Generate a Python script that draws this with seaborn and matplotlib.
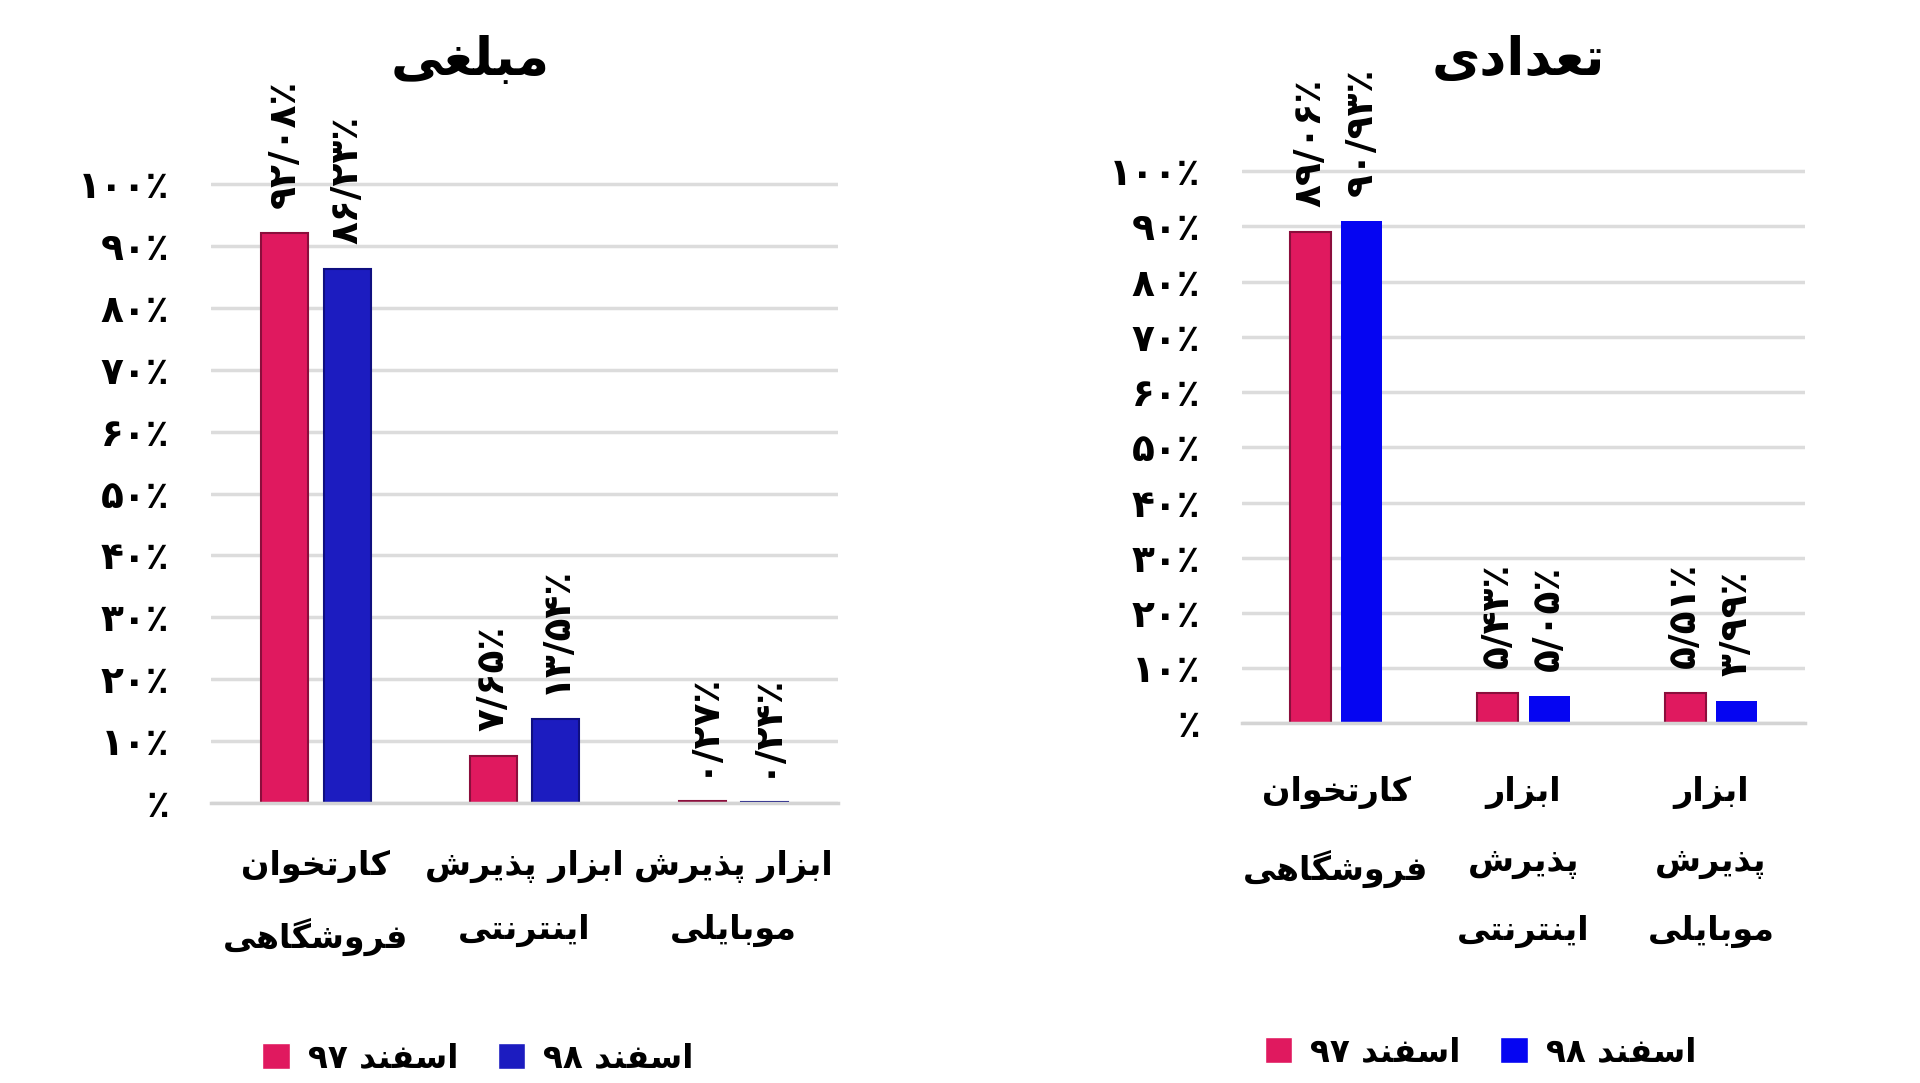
import pandas as pd
import matplotlib
matplotlib.use("Agg")
import matplotlib.pyplot as plt
import seaborn as sns

sns.set_theme(style="white")
plt.rcParams["font.family"] = ["DejaVu Sans"]
plt.rcParams["font.weight"] = "bold"
plt.rcParams["text.color"] = "black"
plt.rcParams["xtick.labelcolor"] = "black"
plt.rcParams["ytick.labelcolor"] = "black"

# ===============================
# DATA
# ===============================
categories = ["کارتخوان فروشگاهی", "ابزار پذیرش اینترنتی", "ابزار پذیرش موبایلی"]
periods = ["اسفند ۹۷", "اسفند ۹۸"]

mablaghi_97 = [92.08, 7.65, 0.27]
mablaghi_98 = [86.23, 13.54, 0.24]
tedadi_97 = [89.06, 5.43, 5.51]
tedadi_98 = [90.93, 5.05, 3.99]

mablaghi_ticklabels = ["کارتخوان\nفروشگاهی", "ابزار پذیرش\nاینترنتی", "ابزار پذیرش\nموبایلی"]
tedadi_ticklabels = ["کارتخوان\nفروشگاهی", "ابزار\nپذیرش\nاینترنتی", "ابزار\nپذیرش\nموبایلی"]
y_ticks = [0, 10, 20, 30, 40, 50, 60, 70, 80, 90, 100]
y_ticklabels = ["٪", "۱۰٪", "۲۰٪", "۳۰٪", "۴۰٪", "۵۰٪", "۶۰٪", "۷۰٪", "۸۰٪", "۹۰٪", "۱۰۰٪"]

title_mablaghi = "مبلغی"
title_tedadi = "تعدادی"

# ===============================
# Persian shaping (matplotlib has no shaping / bidi)
# ===============================
FORMS = {
    "ا": ("\uFE8D", "\uFE8E", None, None),
    "ب": ("\uFE8F", "\uFE90", "\uFE91", "\uFE92"),
    "پ": ("\uFB56", "\uFB57", "\uFB58", "\uFB59"),
    "ت": ("\uFE95", "\uFE96", "\uFE97", "\uFE98"),
    "خ": ("\uFEA5", "\uFEA6", "\uFEA7", "\uFEA8"),
    "د": ("\uFEA9", "\uFEAA", None, None),
    "ذ": ("\uFEAB", "\uFEAC", None, None),
    "ر": ("\uFEAD", "\uFEAE", None, None),
    "ز": ("\uFEAF", "\uFEB0", None, None),
    "س": ("\uFEB1", "\uFEB2", "\uFEB3", "\uFEB4"),
    "ش": ("\uFEB5", "\uFEB6", "\uFEB7", "\uFEB8"),
    "ع": ("\uFEC9", "\uFECA", "\uFECB", "\uFECC"),
    "غ": ("\uFECD", "\uFECE", "\uFECF", "\uFED0"),
    "ف": ("\uFED1", "\uFED2", "\uFED3", "\uFED4"),
    "ک": ("\uFB8E", "\uFB8F", "\uFB90", "\uFB91"),
    "گ": ("\uFB92", "\uFB93", "\uFB94", "\uFB95"),
    "ل": ("\uFEDD", "\uFEDE", "\uFEDF", "\uFEE0"),
    "م": ("\uFEE1", "\uFEE2", "\uFEE3", "\uFEE4"),
    "ن": ("\uFEE5", "\uFEE6", "\uFEE7", "\uFEE8"),
    "ه": ("\uFEE9", "\uFEEA", "\uFEEB", "\uFEEC"),
    "و": ("\uFEED", "\uFEEE", None, None),
    "ی": ("\uFBFC", "\uFBFD", "\uFBFE", "\uFBFF"),
}


def shape_word(word):
    out = []
    for i, ch in enumerate(word):
        if ch not in FORMS:
            out.append(ch)
            continue
        iso, fin, ini, med = FORMS[ch]
        prev_joins = i > 0 and word[i - 1] in FORMS and FORMS[word[i - 1]][2] is not None
        next_joins = ini is not None and i < len(word) - 1 and word[i + 1] in FORMS
        if prev_joins and next_joins:
            out.append(med)
        elif prev_joins:
            out.append(fin)
        elif next_joins:
            out.append(ini)
        else:
            out.append(iso)
    return "".join(reversed(out))


def fa(text):
    lines = []
    for line in text.split("\n"):
        tokens = []
        for tok in line.split(" "):
            if any(c in FORMS for c in tok):
                tokens.append(shape_word(tok))
            else:
                tokens.append(tok)
        lines.append(" ".join(reversed(tokens)))
    return "\n".join(lines)


def fa_percent(v):
    s = f"{v:.2f}".replace(".", "/")
    return s.translate(str.maketrans("0123456789", "۰۱۲۳۴۵۶۷۸۹")) + "٪"


# ===============================
# PLOT
# ===============================
def dibujar(fig, rect, v97, v98, ticklabels, colors, edges, width, gap, title, title_xy,
            legend_xy, xpad, spacing):
    ax = fig.add_axes(rect)
    df = pd.DataFrame({
        "cat": categories * 2,
        "periodo": [fa(periods[0])] * 3 + [fa(periods[1])] * 3,
        "valor": v97 + v98,
    })
    sns.barplot(data=df, x="cat", y="valor", hue="periodo", palette=colors,
                width=width, gap=gap, ax=ax, saturation=1, legend=True)

    for cont, ec, vals in zip(ax.containers, edges, [v97, v98]):
        for p in cont.patches:
            if ec is not None:
                p.set_edgecolor(ec)
                p.set_linewidth(1.5)
            else:
                p.set_linewidth(0)
        ax.bar_label(cont, labels=[fa_percent(v) for v in vals], rotation=90,
                     padding=18, fontsize=27, fontweight="bold", color="black")

    handles, labels = ax.get_legend_handles_labels()
    ax.get_legend().remove()
    fig.legend(handles, labels, loc="center", bbox_to_anchor=legend_xy, ncol=2,
               frameon=False, handlelength=0.85, handleheight=0.85,
               handletextpad=0.55, columnspacing=1.2,
               prop={"weight": "bold", "size": 23.5})

    ax.set_xlim(-0.5, 2.5)
    ax.set_ylim(0, 100.5)
    ax.set_yticks(y_ticks)
    ax.set_yticklabels(y_ticklabels, fontsize=27, fontweight="bold")
    ax.set_xticks([0, 1, 2])
    ax.set_xticklabels([fa(t) for t in ticklabels], fontsize=24, fontweight="bold", linespacing=spacing)
    ax.set_xticks([-0.5, 0.5, 1.5, 2.5], minor=True)
    ax.tick_params(axis="y", length=0, pad=30)
    ax.tick_params(axis="x", which="major", length=0, pad=xpad)
    ax.tick_params(axis="x", which="minor", length=10, width=2, color="#d4d4d4", direction="out")
    ax.set_xlabel("")
    ax.set_ylabel("")

    ax.yaxis.grid(True, color="#dcdcdc", linewidth=2.5)
    ax.set_axisbelow(True)
    for s in ["top", "left", "right"]:
        ax.spines[s].set_visible(False)
    ax.spines["bottom"].set_color("#d4d4d4")
    ax.spines["bottom"].set_linewidth(2.5)

    fig.text(title_xy[0], title_xy[1], fa(title), fontsize=38, fontweight="bold",
             ha="center", va="center")
    return ax


fig = plt.figure(figsize=(19.2, 10.83), dpi=100)

dibujar(fig, [0.110, 0.2585, 0.3265, 0.5745], mablaghi_97, mablaghi_98, mablaghi_ticklabels,
        ["#E0195F", "#1C1CC0"], ["#8B0E3C", "#0F0F80"], 0.6, 0.25,
        title_mablaghi, (0.245, 0.945), (0.249, 0.023), 34, 2.15)

dibujar(fig, [0.647, 0.332, 0.293, 0.5125], tedadi_97, tedadi_98, tedadi_ticklabels,
        ["#E0195F", "#0505F2"], ["#8B0E3C", None], 0.55, 0.2,
        title_tedadi, (0.791, 0.945), (0.771, 0.029), 38, 2.35)

fig.savefig("out.png", dpi=100, facecolor="white")
